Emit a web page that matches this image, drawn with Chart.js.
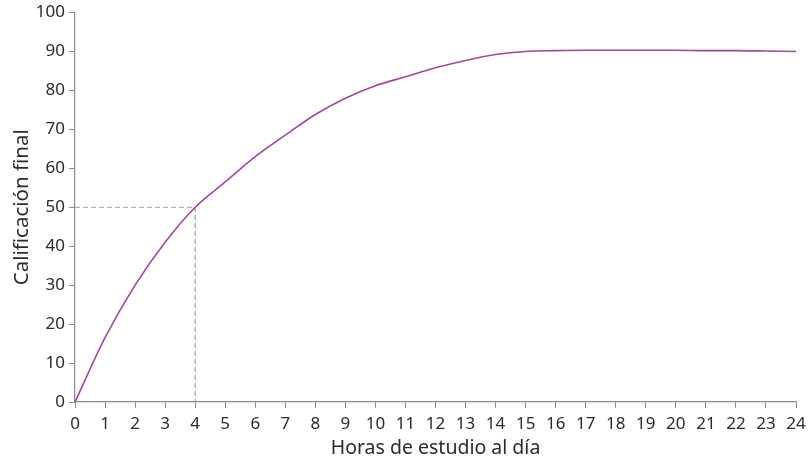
<!DOCTYPE html>
<html>
<head>
<meta charset="utf-8">
<script src="https://cdn.jsdelivr.net/npm/chart.js@4"></script>
<style>
  html, body { margin: 0; padding: 0; background: #fff; }
  #wrap { width: 810px; height: 472px; }
</style>
</head>
<body>
<div id="wrap"><canvas id="gradeChart"></canvas></div>
<script>
// hours of study per day vs final grade
const hours = [0, 1, 2, 3, 4, 5, 6, 7, 8, 9, 10, 11, 12, 13, 14, 15, 16, 17, 18, 19, 20, 21, 22, 23, 24]
const grades = [0, 16.5, 30, 41, 50, 56.5, 63, 68.5, 73.8, 78, 81.2, 83.5, 85.8, 87.7, 89.2, 90, 90.2, 90.3, 90.3, 90.3, 90.3, 90.2, 90.2, 90.1, 90]
const guideX = [0, 4, 4]
const guideY = [50, 50, 0]
const xTicks = hours
const yTicks = [0, 10, 20, 30, 40, 50, 60, 70, 80, 90, 100]

const toPoints = (xs, ys) => xs.map((x, i) => ({ x: x, y: ys[i] }))

const axisColor = '#8a8a8a'
const textColor = '#2b2b2b'
const fontFamily = '"Noto Sans", "Open Sans", sans-serif'

const ctx = document.getElementById('gradeChart')
new Chart(ctx, {
    type: 'scatter',
    data: {
        datasets: [{
            label: 'Calificación',
            data: toPoints(hours, grades),
            showLine: true,
            borderColor: '#a3469c',
            borderWidth: 1.6,
            pointRadius: 0,
            cubicInterpolationMode: 'monotone',
        }, {
            label: 'guía',
            data: toPoints(guideX, guideY),
            showLine: true,
            borderColor: '#9a9a9a',
            borderWidth: 1.2,
            borderDash: [5, 3],
            pointRadius: 0,
            tension: 0,
        }],
    },
    options: {
        responsive: true,
        maintainAspectRatio: false,
        animation: false,
        layout: {
            padding: { top: 11, right: 14, left: 0, bottom: 0 },
        },
        plugins: {
            legend: { display: false },
            tooltip: { enabled: false },
        },
        scales: {
            x: {
                type: 'linear',
                min: 0,
                max: 24,
                afterFit: (scale) => {
                    scale.height = 70
                    scale.paddingLeft = 0
                    scale.paddingRight = 0
                },
                afterBuildTicks: (scale) => { scale.ticks = xTicks.map(v => ({ value: v })) },
                grid: { drawOnChartArea: false, drawTicks: true, tickLength: 6, color: axisColor },
                border: { color: axisColor, width: 1.2 },
                ticks: { color: textColor, font: { family: fontFamily, size: 17 }, padding: 6, maxRotation: 0, autoSkip: false },
                title: { display: true, text: 'Horas de estudio al día', color: textColor, font: { family: fontFamily, size: 19.5 }, padding: { top: 12, bottom: 12 } },
            },
            y: {
                min: 0,
                max: 100,
                afterFit: (scale) => { scale.width = 75 },
                afterBuildTicks: (scale) => { scale.ticks = yTicks.map(v => ({ value: v })) },
                grid: { drawOnChartArea: false, drawTicks: true, tickLength: 6, color: axisColor },
                border: { color: axisColor, width: 1.2 },
                ticks: { color: textColor, font: { family: fontFamily, size: 17, lineHeight: 1 }, padding: 4 },
                title: { display: true, text: 'Calificación final', color: textColor, font: { family: fontFamily, size: 20.5 }, padding: { top: 10, bottom: 10 } },
            },
        },
    },
})
</script>
</body>
</html>
